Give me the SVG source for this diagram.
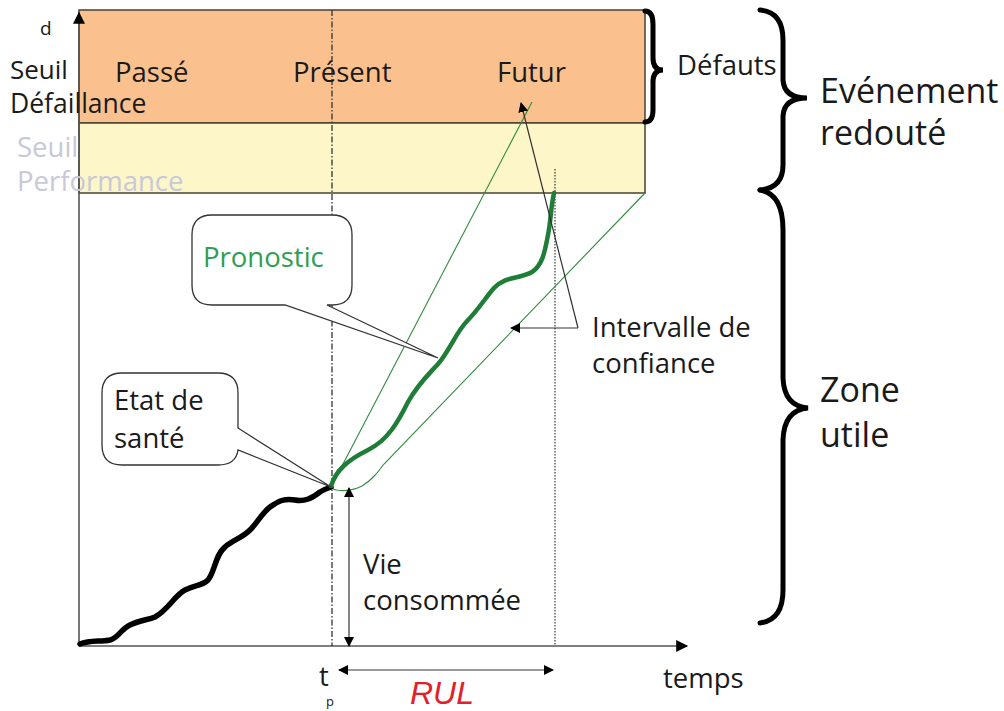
<svg xmlns="http://www.w3.org/2000/svg" width="1004" height="711" viewBox="0 0 1004 711">
<defs>
<style>
.t{font-family:"Open Sans","Noto Sans",sans-serif;font-size:27.5px;fill:#1a1a1a}
.big{font-size:34px}
.gray{fill:#c8c8d8}
.axis{stroke:#555;stroke-width:1.6;fill:none}
.brace{stroke:#000;stroke-width:5;fill:none;stroke-linecap:round}
.thin{stroke:#333;stroke-width:1.2;fill:none}
.conf{stroke:#2e8b3e;stroke-width:1.1;fill:none}
.callout{fill:#fff;stroke:#333;stroke-width:1.3}
</style>
<marker id="ah" viewBox="0 0 10 10" refX="9" refY="5" markerWidth="10" markerHeight="10" markerUnits="userSpaceOnUse" orient="auto-start-reverse"><path d="M0,0 L10,5 L0,10 z" fill="#000"/></marker>
<marker id="ahb" viewBox="0 0 10 10" refX="9" refY="5" markerWidth="14" markerHeight="12" markerUnits="userSpaceOnUse" orient="auto-start-reverse"><path d="M0,0 L10,5 L0,10 z" fill="#000"/></marker>
</defs>
<rect width="1004" height="711" fill="#fff"/>

<g id="zones">
<rect x="79" y="10" width="566" height="113" fill="#fac18f" stroke="#4a4030" stroke-width="1.5"/>
<rect x="79" y="123" width="566" height="70" fill="#fdf6c9" stroke="#4a4030" stroke-width="1.5"/>
</g>

<g id="axes">
<line class="axis" x1="79" y1="646" x2="79" y2="13" marker-end="url(#ahb)"/>
<line class="axis" x1="79" y1="646" x2="687" y2="646" marker-end="url(#ahb)"/>
<line x1="332" y1="10" x2="332" y2="646" stroke="#333" stroke-width="1.3" stroke-dasharray="6 2 1.5 2"/>
<line x1="555" y1="169" x2="555" y2="646" stroke="#333" stroke-width="1.2" stroke-dasharray="1.5 1.5"/>
</g>

<g id="labels-left">
<text class="t" x="40" y="35" style="font-size:19px">d</text>
<text class="t" x="10" y="79" style="font-size:26px">Seuil</text>
<text class="t" x="10" y="113" style="font-size:26.5px">Défaillance</text>
<text class="t gray" x="17" y="157">Seuil</text>
<text class="t gray" x="17" y="191">Performance</text>
</g>

<g id="periods">
<text class="t" x="115" y="82">Passé</text>
<text class="t" x="293" y="82">Présent</text>
<text class="t" x="497" y="82">Futur</text>
</g>

<g id="braces">
<path class="brace" d="M645,11 Q653,11 653,24 L653,58 Q653,70 663,70 Q653,70 653,82 L653,110 Q653,122 645,122"/>
<path class="brace" d="M760,10 Q783,12 783,40 L783,80 Q784,98 807,98 Q784,98 783,116 L783,165 Q783,188 760,190"/>
<path class="brace" d="M760,190 Q783,194 783,230 L783,378 Q784,406 808,408 Q784,410 783,440 L783,590 Q783,620 760,623"/>
<text class="t" x="677" y="75">Défauts</text>
<text class="t big" x="820" y="103">Evénement</text>
<text class="t big" x="820" y="145">redouté</text>
<text class="t big" x="820" y="402">Zone</text>
<text class="t big" x="820" y="447">utile</text>
</g>

<g id="connectors">
<line class="conf" x1="331" y1="487" x2="532" y2="102"/>
<path class="conf" d="M331,487 C335,492 350,492 362,486 C372,480 378,472 384,464 L645,193"/>
<path d="M80,644 C90,640 100,642 110,640 C118,638 120,630 130,625 C140,620 148,620 155,617 C168,610 175,595 185,590 C195,585 202,586 208,580 C215,572 215,555 225,547 C233,540 242,538 250,530 C258,522 262,513 270,507 C278,501 285,498 295,500 C305,502 312,498 320,492 C325,489 328,488 331,487" fill="none" stroke="#000" stroke-width="5.5" stroke-linecap="round"/>
<path d="M331,486 C336,470 348,460 368,450 C388,440 398,422 408,402 C418,384 428,375 438,364 C450,350 456,332 468,320 C478,310 486,297 494,288 C505,276 520,279 532,272 C543,265 545,250 548,235 C551,220 551,205 554,193" fill="none" stroke="#1e7d36" stroke-width="4.5" stroke-linecap="round"/>
<line class="thin" x1="349" y1="646" x2="349" y2="488" marker-start="url(#ah)" marker-end="url(#ah)"/>
<line class="thin" x1="339" y1="670" x2="553" y2="670" marker-start="url(#ah)" marker-end="url(#ah)"/>
<polyline class="thin" points="578,328 511,328" marker-end="url(#ah)"/>
<line class="thin" x1="578" y1="328" x2="521" y2="103" marker-end="url(#ah)"/>
</g>

<g id="callout-pronostic">
<path class="callout" d="M212,215 L332,215 Q352,215 352,235 L352,285 Q352,305 332,305 L327,305 L438,358 L285,305 L212,305 Q192,305 192,285 L192,235 Q192,215 212,215 z"/>
<text class="t" x="203" y="267" style="fill:#2f9e4f">Pronostic</text>
</g>

<g id="callout-etat">
<path class="callout" d="M122,373 L218,373 Q238,373 238,393 L238,428 L331,487 L238,450 Q236,465 218,465 L122,465 Q102,465 102,445 L102,393 Q102,373 122,373 z"/>
<text class="t" x="114" y="410">Etat de</text>
<text class="t" x="114" y="448">santé</text>
</g>

<g id="annotations">
<text class="t" x="592" y="337">Intervalle de</text>
<text class="t" x="592" y="373">confiance</text>
<text class="t" x="363" y="574">Vie</text>
<text class="t" x="363" y="610">consommée</text>
<text class="t" x="319" y="686">t</text>
<text class="t" x="326" y="706" style="font-size:13px">p</text>
<text x="410" y="704" style="font-family:'Liberation Sans',Arial,sans-serif;font-size:32px;font-style:italic;fill:#e2202c">RUL</text>
<text class="t" x="663" y="688">temps</text>
</g>
</svg>
